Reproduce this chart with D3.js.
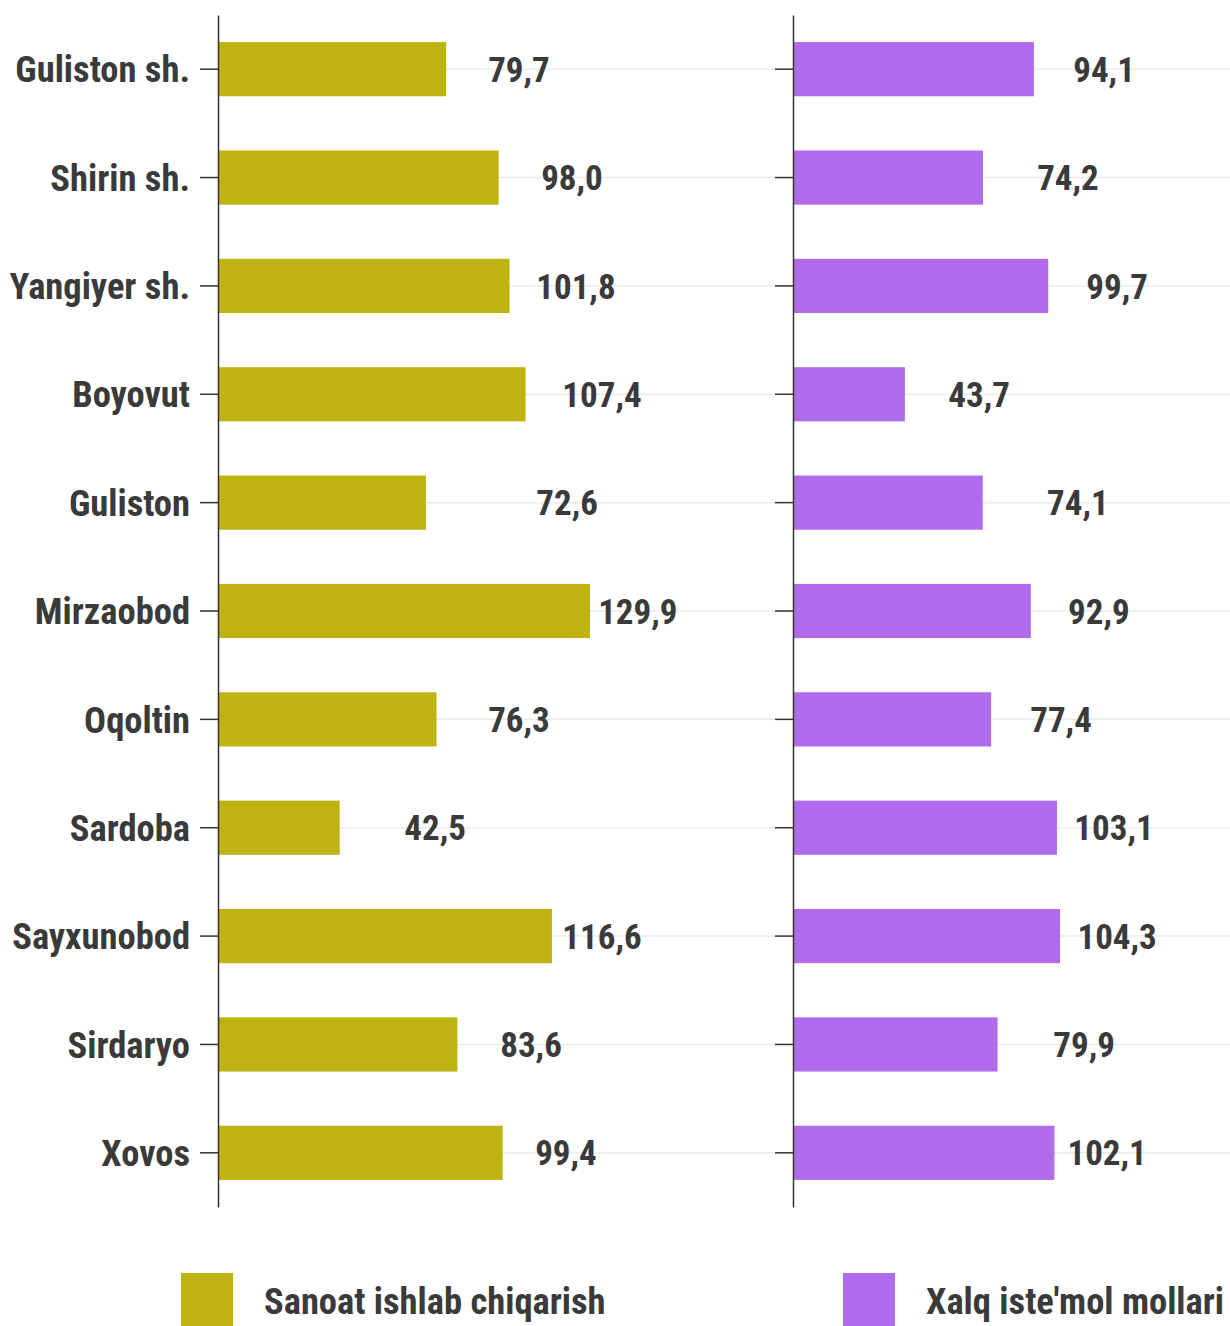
<!DOCTYPE html>
<html>
<head>
<meta charset="utf-8">
<script src="https://cdn.jsdelivr.net/npm/d3@7"></script>
<style>
  html, body { margin: 0; padding: 0; background: #fff; }
  text { font-family: "Liberation Sans Narrow", "Roboto Condensed", "Arial Narrow", sans-serif; font-weight: bold; fill: #3a3a3a; }
</style>
</head>
<body>
<svg id="svg" width="1230" height="1326"></svg>
<script>
// districts, top to bottom
var districts = ["Guliston sh.", "Shirin sh.", "Yangiyer sh.", "Boyovut", "Guliston",
  "Mirzaobod", "Oqoltin", "Sardoba", "Sayxunobod", "Sirdaryo", "Xovos"];

// Sanoat ishlab chiqarish
var sanoat = [79.7, 98.0, 101.8, 107.4, 72.6, 129.9, 76.3, 42.5, 116.6, 83.6, 99.4];
// Xalq iste'mol mollari
var xalq = [94.1, 74.2, 99.7, 43.7, 74.1, 92.9, 77.4, 103.1, 104.3, 79.9, 102.1];

// where the value labels sit (in value units, repelled in the original)
var sanoatLabelAt = [105.1, 123.6, 125.0, 134.1, 121.9, 146.6, 105.1, 75.8, 134.1, 109.3, 121.5];
var xalqLabelAt = [121.5, 107.4, 126.6, 72.7, 111.3, 119.5, 104.7, 125.4, 126.6, 113.7, 122.7];

var seriesNames = ["Sanoat ishlab chiqarish", "Xalq iste'mol mollari"];
var colors = ["#bfb312", "#b06aec"];

var svg = d3.select("#svg");

var y = d3.scaleBand()
  .domain(districts)
  .range([15, 1207])
  .paddingInner(0.5)
  .paddingOuter(0.25);

var panels = [
  { values: sanoat, labelAt: sanoatLabelAt, color: colors[0],
    x: d3.scaleLinear().domain([0, 194.5]).range([218, 775]), labels: true },
  { values: xalq, labelAt: xalqLabelAt, color: colors[1],
    x: d3.scaleLinear().domain([0, 170.7]).range([793, 1230]), labels: false }
];

panels.forEach(function (p) {
  var g = svg.append("g");
  var x0 = p.x.range()[0];

  // grid lines
  g.selectAll(".grid")
    .data(districts)
    .enter()
    .append("line")
    .attr("x1", x0)
    .attr("x2", p.x.range()[1])
    .attr("y1", d => y(d) + y.bandwidth() / 2)
    .attr("y2", d => y(d) + y.bandwidth() / 2)
    .style("stroke", "#ebebeb")
    .style("stroke-width", 1.5);

  // bars
  g.selectAll(".bar")
    .data(p.values)
    .enter()
    .append("rect")
    .attr("x", x0)
    .attr("y", (d, i) => y(districts[i]))
    .attr("width", d => p.x(d) - x0)
    .attr("height", y.bandwidth())
    .style("fill", p.color);

  // axis
  var axis = g.append("g")
    .attr("transform", `translate(${x0}, 0)`)
    .call(d3.axisLeft(y).tickSize(18).tickPadding(10).tickSizeOuter(0));
  axis.select(".domain").style("stroke", "#333").style("stroke-width", 1.5);
  axis.selectAll(".tick line").style("stroke", "#333").style("stroke-width", 1.5);
  axis.selectAll(".tick text")
    .attr("font-size", null)
    .style("font-size", "36.5px")
    .style("font-family", null)
    .attr("fill", null)
    .attr("dy", "0.36em");
  if (!p.labels) axis.selectAll(".tick text").remove();

  // value labels
  g.selectAll(".val")
    .data(p.values)
    .enter()
    .append("text")
    .attr("x", (d, i) => p.x(p.labelAt[i]))
    .attr("y", (d, i) => y(districts[i]) + y.bandwidth() / 2)
    .attr("dy", "0.36em")
    .attr("text-anchor", "middle")
    .style("font-size", "35px")
    .text(d => d3.format(".1f")(d).replace(".", ","));
});

// legend
var legendX = [181, 843];
var legend = svg.selectAll(".legend")
  .data(seriesNames)
  .enter()
  .append("g")
  .attr("transform", (d, i) => `translate(${legendX[i]}, 1273)`);
legend.append("rect")
  .attr("width", 52)
  .attr("height", 56)
  .style("fill", (d, i) => colors[i]);
legend.append("text")
  .attr("x", 83)
  .attr("y", 28)
  .attr("dy", "0.36em")
  .style("font-size", "36.5px")
  .text(d => d);
</script>
</body>
</html>
